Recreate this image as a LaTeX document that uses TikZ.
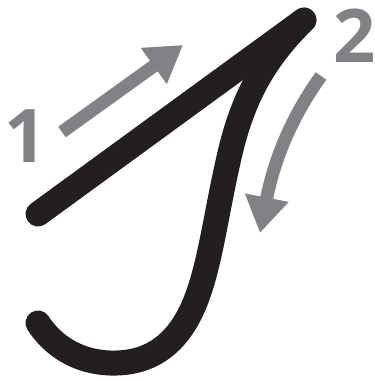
\documentclass[tikz,border=0pt]{standalone}
\usepackage{fontspec}
\setmainfont{Open Sans}
\usetikzlibrary{arrows.meta}
\definecolor{ink}{HTML}{231F20}
\definecolor{guide}{HTML}{808285}
\tikzset{
  stroke/.style={draw=ink, line width=25pt, line cap=round},
  guidearrow/.style={draw=guide, line width=13pt, -{Triangle[length=36pt,width=42pt]}},
  numlabel/.style={text=guide, font=\fontsize{74}{74}\selectfont\bfseries, inner sep=0pt, anchor=base}
}
\begin{document}
\begin{tikzpicture}[x=1pt,y=-1pt]
\useasboundingbox (0,0) rectangle (375,381);
% stroke 1
\coordinate (s1a) at (38,214);
\coordinate (s1b) at (304,20);
\draw[stroke] (s1a) -- (s1b);
% stroke 2
\coordinate (s2e) at (38,323);
\draw[stroke] (s1b) .. controls (265,58) and (245,95) .. (232,145)
  .. controls (216,210) and (211,265) .. (194,305)
  .. controls (174,352) and (142,364) .. (110,363)
  .. controls (78,362) and (53,346) .. (s2e);
% guide arrows
\coordinate (a1s) at (62,132);
\coordinate (a1e) at (183,45);
\draw[guidearrow] (a1s) -- (a1e);
\coordinate (a2s) at (321,76);
\coordinate (a2e) at (260,233);
\draw[guidearrow] (a2s) .. controls (298,108) and (276,150) .. (a2e);
% numbers
\node[numlabel] (n1) at (25.5,162) {1};
\node[numlabel] (n2) at (354.5,62) {2};
\end{tikzpicture}
\end{document}
